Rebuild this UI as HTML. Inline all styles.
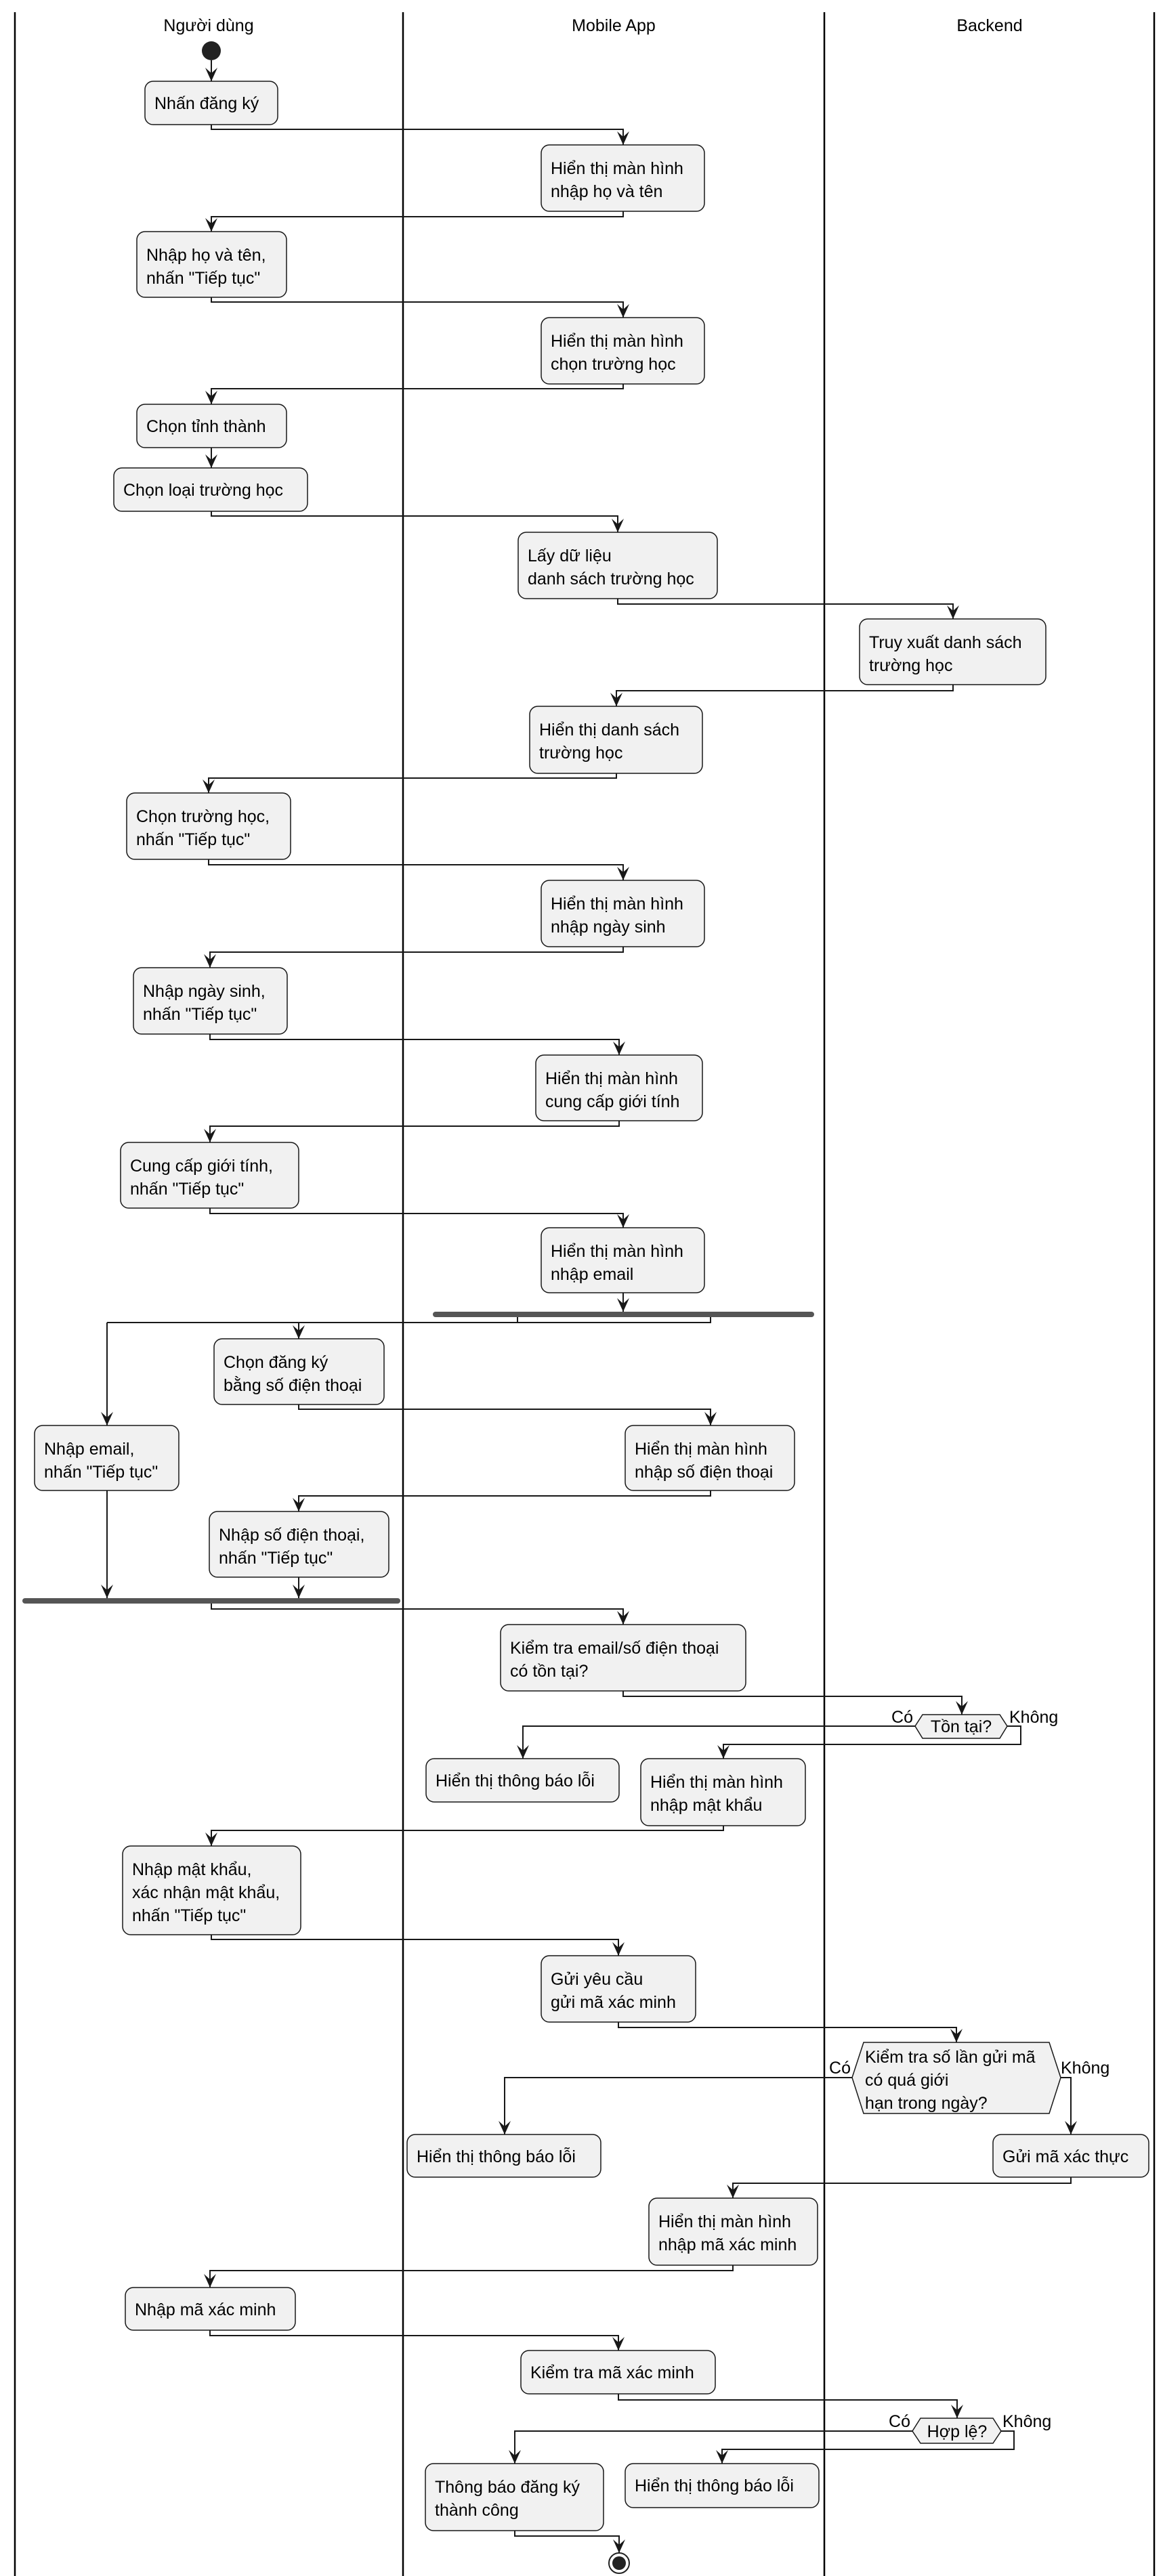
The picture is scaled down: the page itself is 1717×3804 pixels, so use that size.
<!DOCTYPE html>
<html><head><meta charset="utf-8">
<style>
html,body{margin:0;padding:0;background:#fff;}
svg{display:block;}
text{font-family:"Liberation Sans",Arial,sans-serif;font-size:25px;fill:#000;}
.b{fill:#f1f1f1;stroke:#181818;stroke-width:1.5;}
.l{fill:none;stroke:#181818;stroke-width:2;marker-end:url(#a);}
.n{fill:none;stroke:#181818;stroke-width:2;}
.lane{stroke:#000;stroke-width:2.5;}
</style></head><body>
<svg width="1717" height="3804" viewBox="0 0 1717 3804" xmlns="http://www.w3.org/2000/svg">
<defs>
<marker id="a" markerUnits="userSpaceOnUse" markerWidth="22" markerHeight="22" viewBox="0 0 22 22" refX="20" refY="11" orient="auto">
<path d="M0,2 L20,11 L0,20 L8,11 z" fill="#181818"/>
</marker>
</defs>
<!-- lanes -->
<line class="lane" x1="22" y1="18" x2="22" y2="3804"/>
<line class="lane" x1="595" y1="18" x2="595" y2="3804"/>
<line class="lane" x1="1217" y1="18" x2="1217" y2="3804"/>
<line class="lane" x1="1704" y1="18" x2="1704" y2="3804"/>
<text x="308" y="46" text-anchor="middle">Người dùng</text>
<text x="906" y="46" text-anchor="middle">Mobile App</text>
<text x="1461" y="46" text-anchor="middle">Backend</text>

<!-- start -->
<circle cx="312" cy="75" r="14" fill="#222"/>
<path class="l" d="M312 89 V120"/>

<!-- boxes -->
<rect class="b" x="214" y="120" width="196" height="64" rx="12"/><text x="228" y="161">Nhấn đăng ký</text>
<rect class="b" x="799" y="214" width="241" height="98" rx="12"/><text x="813" y="257">Hiển thị màn hình</text><text x="813" y="291">nhập họ và tên</text>
<rect class="b" x="202" y="342" width="221" height="97" rx="12"/><text x="216" y="385">Nhập họ và tên,</text><text x="216" y="419">nhấn "Tiếp tục"</text>
<rect class="b" x="799" y="469" width="241" height="98" rx="12"/><text x="813" y="512">Hiển thị màn hình</text><text x="813" y="546">chọn trường học</text>
<rect class="b" x="202" y="597" width="221" height="64" rx="12"/><text x="216" y="638">Chọn tỉnh thành</text>
<rect class="b" x="168" y="691" width="286" height="64" rx="12"/><text x="182" y="732">Chọn loại trường học</text>
<rect class="b" x="765" y="786" width="294" height="98" rx="12"/><text x="779" y="829">Lấy dữ liệu</text><text x="779" y="863">danh sách trường học</text>
<rect class="b" x="1269" y="914" width="275" height="97" rx="12"/><text x="1283" y="957">Truy xuất danh sách</text><text x="1283" y="991">trường học</text>
<rect class="b" x="782" y="1043" width="255" height="99" rx="12"/><text x="796" y="1086">Hiển thị danh sách</text><text x="796" y="1120">trường học</text>
<rect class="b" x="187" y="1171" width="242" height="98" rx="12"/><text x="201" y="1214">Chọn trường học,</text><text x="201" y="1248">nhấn "Tiếp tục"</text>
<rect class="b" x="799" y="1300" width="241" height="98" rx="12"/><text x="813" y="1343">Hiển thị màn hình</text><text x="813" y="1377">nhập ngày sinh</text>
<rect class="b" x="197" y="1429" width="227" height="98" rx="12"/><text x="211" y="1472">Nhập ngày sinh,</text><text x="211" y="1506">nhấn "Tiếp tục"</text>
<rect class="b" x="791" y="1558" width="246" height="97" rx="12"/><text x="805" y="1601">Hiển thị màn hình</text><text x="805" y="1635">cung cấp giới tính</text>
<rect class="b" x="178" y="1687" width="263" height="97" rx="12"/><text x="192" y="1730">Cung cấp giới tính,</text><text x="192" y="1764">nhấn "Tiếp tục"</text>
<rect class="b" x="799" y="1813" width="241" height="96" rx="12"/><text x="813" y="1856">Hiển thị màn hình</text><text x="813" y="1890">nhập email</text>

<rect x="639" y="1937" width="563" height="8" rx="4" fill="#555"/>

<rect class="b" x="316" y="1977" width="251" height="97" rx="12"/><text x="330" y="2020">Chọn đăng ký</text><text x="330" y="2054">bằng số điện thoại</text>
<rect class="b" x="51" y="2105" width="213" height="96" rx="12"/><text x="65" y="2148">Nhập email,</text><text x="65" y="2182">nhấn "Tiếp tục"</text>
<rect class="b" x="923" y="2105" width="250" height="96" rx="12"/><text x="937" y="2148">Hiển thị màn hình</text><text x="937" y="2182">nhập số điện thoại</text>
<rect class="b" x="309" y="2232" width="265" height="97" rx="12"/><text x="323" y="2275">Nhập số điện thoại,</text><text x="323" y="2309">nhấn "Tiếp tục"</text>

<rect x="33" y="2360" width="558" height="8" rx="4" fill="#555"/>

<rect class="b" x="739" y="2399" width="362" height="98" rx="12"/><text x="753" y="2442">Kiểm tra email/số điện thoại</text><text x="753" y="2476">có tồn tại?</text>
<polygon class="b" points="1351,2549 1362,2532 1476,2532 1487,2549 1476,2567 1362,2567"/><text x="1419" y="2558" text-anchor="middle">Tồn tại?</text>
<text x="1348" y="2544" text-anchor="end">Có</text><text x="1490" y="2544">Không</text>
<rect class="b" x="629" y="2597" width="285" height="64" rx="12"/><text x="643" y="2638">Hiển thị thông báo lỗi</text>
<rect class="b" x="946" y="2597" width="243" height="99" rx="12"/><text x="960" y="2640">Hiển thị màn hình</text><text x="960" y="2674">nhập mật khẩu</text>
<rect class="b" x="181" y="2726" width="263" height="131" rx="12"/><text x="195" y="2769">Nhập mật khẩu,</text><text x="195" y="2803">xác nhận mật khẩu,</text><text x="195" y="2837">nhấn "Tiếp tục"</text>
<rect class="b" x="799" y="2888" width="228" height="98" rx="12"/><text x="813" y="2931">Gửi yêu cầu</text><text x="813" y="2965">gửi mã xác minh</text>
<polygon class="b" points="1258,3068 1275,3016 1549,3016 1566,3068 1549,3121 1275,3121"/>
<text x="1277" y="3046">Kiểm tra số lần gửi mã</text><text x="1277" y="3080">có quá giới</text><text x="1277" y="3114">hạn trong ngày?</text>
<text x="1256" y="3062" text-anchor="end">Có</text><text x="1566" y="3062">Không</text>
<rect class="b" x="601" y="3152" width="286" height="63" rx="12"/><text x="615" y="3193">Hiển thị thông báo lỗi</text>
<rect class="b" x="1466" y="3152" width="230" height="63" rx="12"/><text x="1480" y="3193">Gửi mã xác thực</text>
<rect class="b" x="958" y="3246" width="249" height="99" rx="12"/><text x="972" y="3289">Hiển thị màn hình</text><text x="972" y="3323">nhập mã xác minh</text>
<rect class="b" x="185" y="3378" width="251" height="63" rx="12"/><text x="199" y="3419">Nhập mã xác minh</text>
<rect class="b" x="769" y="3471" width="287" height="64" rx="12"/><text x="783" y="3512">Kiểm tra mã xác minh</text>
<polygon class="b" points="1347,3590 1359,3571 1466,3571 1478,3590 1466,3608 1359,3608"/><text x="1413" y="3599" text-anchor="middle">Hợp lệ?</text>
<text x="1344" y="3584" text-anchor="end">Có</text><text x="1480" y="3584">Không</text>
<rect class="b" x="628" y="3638" width="263" height="99" rx="12"/><text x="642" y="3681">Thông báo đăng ký</text><text x="642" y="3715">thành công</text>
<rect class="b" x="923" y="3638" width="286" height="65" rx="12"/><text x="937" y="3679">Hiển thị thông báo lỗi</text>

<!-- end -->
<circle cx="914" cy="3785" r="15" fill="#fff" stroke="#222" stroke-width="2"/>
<circle cx="914" cy="3785" r="10" fill="#222"/>

<!-- connectors -->
<path class="l" d="M312 184 V191 H920 V214"/>
<path class="l" d="M920 312 V320 H312 V342"/>
<path class="l" d="M312 439 V446 H920 V469"/>
<path class="l" d="M920 567 V574 H312 V597"/>
<path class="l" d="M312 661 V691"/>
<path class="l" d="M312 755 V762 H912 V786"/>
<path class="l" d="M912 884 V892 H1407 V914"/>
<path class="l" d="M1407 1011 V1020 H910 V1043"/>
<path class="l" d="M910 1142 V1149 H308 V1171"/>
<path class="l" d="M308 1269 V1277 H920 V1300"/>
<path class="l" d="M920 1398 V1406 H310 V1429"/>
<path class="l" d="M310 1527 V1535 H914 V1558"/>
<path class="l" d="M914 1655 V1663 H310 V1687"/>
<path class="l" d="M310 1784 V1792 H920 V1813"/>
<path class="l" d="M920 1909 V1937"/>
<path class="n" d="M764 1945 V1953 H158"/>
<path class="l" d="M158 1953 V2105"/>
<path class="n" d="M1049 1945 V1953 H441"/>
<path class="l" d="M441 1953 V1977"/>
<path class="l" d="M441 2074 V2081 H1049 V2105"/>
<path class="l" d="M1049 2201 V2209 H441 V2232"/>
<path class="l" d="M158 2201 V2360"/>
<path class="l" d="M441 2329 V2360"/>
<path class="l" d="M312 2368 V2376 H920 V2399"/>
<path class="l" d="M920 2497 V2505 H1420 V2532"/>
<path class="l" d="M1351 2549 H772 V2597"/>
<path class="l" d="M1487 2549 H1507 V2576 H1068 V2597"/>
<path class="l" d="M1068 2696 V2703 H312 V2726"/>
<path class="l" d="M312 2857 V2864 H913 V2888"/>
<path class="l" d="M913 2986 V2994 H1412 V3016"/>
<path class="l" d="M1258 3068 H745 V3152"/>
<path class="l" d="M1566 3068 H1581 V3152"/>
<path class="l" d="M1581 3215 V3224 H1082 V3246"/>
<path class="l" d="M1082 3345 V3353 H310 V3378"/>
<path class="l" d="M310 3441 V3449 H913 V3471"/>
<path class="l" d="M913 3535 V3544 H1413 V3571"/>
<path class="l" d="M1347 3590 H760 V3638"/>
<path class="l" d="M1478 3590 H1497 V3617 H1066 V3638"/>
<path class="l" d="M760 3737 V3745 H914 V3770"/>
</svg>
</body></html>
